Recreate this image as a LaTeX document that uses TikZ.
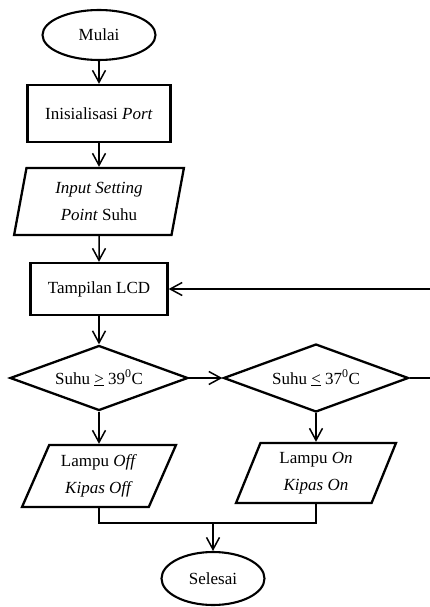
\documentclass[tikz,border=0pt]{standalone}
\usepackage{fontspec}
\setmainfont{Liberation Serif}
\usetikzlibrary{shapes.geometric,arrows.meta}
\tikzset{
    startstop/.style={ellipse, draw, line width=2.1pt, inner sep=0pt},
    procbox/.style={rectangle, draw, line width=2.3pt, inner sep=0pt},
    iobox/.style={trapezium, draw, line width=2.3pt, trapezium stretches=true, inner sep=0pt, align=center},
    decbox/.style={diamond, draw, line width=2.3pt, inner sep=0pt, aspect=2.7},
    flow/.style={line width=1.5pt, -{Straight Barb[length=12pt,width=13pt,line width=1.5pt]}},
    joinline/.style={line width=1.5pt},
}
\begin{document}
\begin{tikzpicture}[x=1pt, y=-1pt, font=\fontsize{17}{27}\selectfont]
    \clip (0,0) rectangle (430,607);
    \node[startstop, minimum width=113pt, minimum height=50pt] (mulai) at (99,35) {Mulai};
    \node[procbox, minimum width=143pt, minimum height=57pt] (init) at (99,113.5) {Inisialisasi \textit{Port}};
    \node[iobox, trapezium left angle=79, trapezium right angle=101, minimum width=170pt, minimum height=67pt] (setpoint) at (99,201.5) {\textit{Input Setting}\\\textit{Point} Suhu};
    \node[procbox, minimum width=137pt, minimum height=52pt] (lcd) at (99,289) {Tampilan LCD};
    \node[decbox, minimum width=178pt, minimum height=65pt] (panas) at (99,378) {Suhu \underline{>} 39\textsuperscript{0}C};
    \node[decbox, minimum width=185pt, minimum height=68pt] (dingin) at (316,378) {Suhu \underline{<} 37\textsuperscript{0}C};
    \node[iobox, trapezium left angle=64, trapezium right angle=116, minimum width=154pt, minimum height=62pt] (off) at (99,476) {Lampu \textit{Off}\\\textit{Kipas Off}};
    \node[iobox, trapezium left angle=69, trapezium right angle=111, minimum width=160pt, minimum height=60pt] (on) at (316,473) {Lampu \textit{On}\\\textit{Kipas On}};
    \node[startstop, minimum width=103pt, minimum height=53pt] (selesai) at (213,578.5) {Selesai};
    \coordinate (gabung) at (213,523);
    \draw[flow] (mulai) -- (init);
    \draw[flow] (init) -- (setpoint);
    \draw[flow] (setpoint) -- (lcd);
    \draw[flow] (lcd) -- (panas);
    \draw[flow] (panas) -- (dingin);
    \draw[flow] (dingin.east) -- ++(30,0) |- (lcd.east);
    \draw[flow] (panas) -- (off);
    \draw[flow] (dingin) -- (on);
    \draw[joinline] (off.south) |- (gabung) -| (on.south);
    \draw[flow] (gabung) -- (selesai);
\end{tikzpicture}
\end{document}
